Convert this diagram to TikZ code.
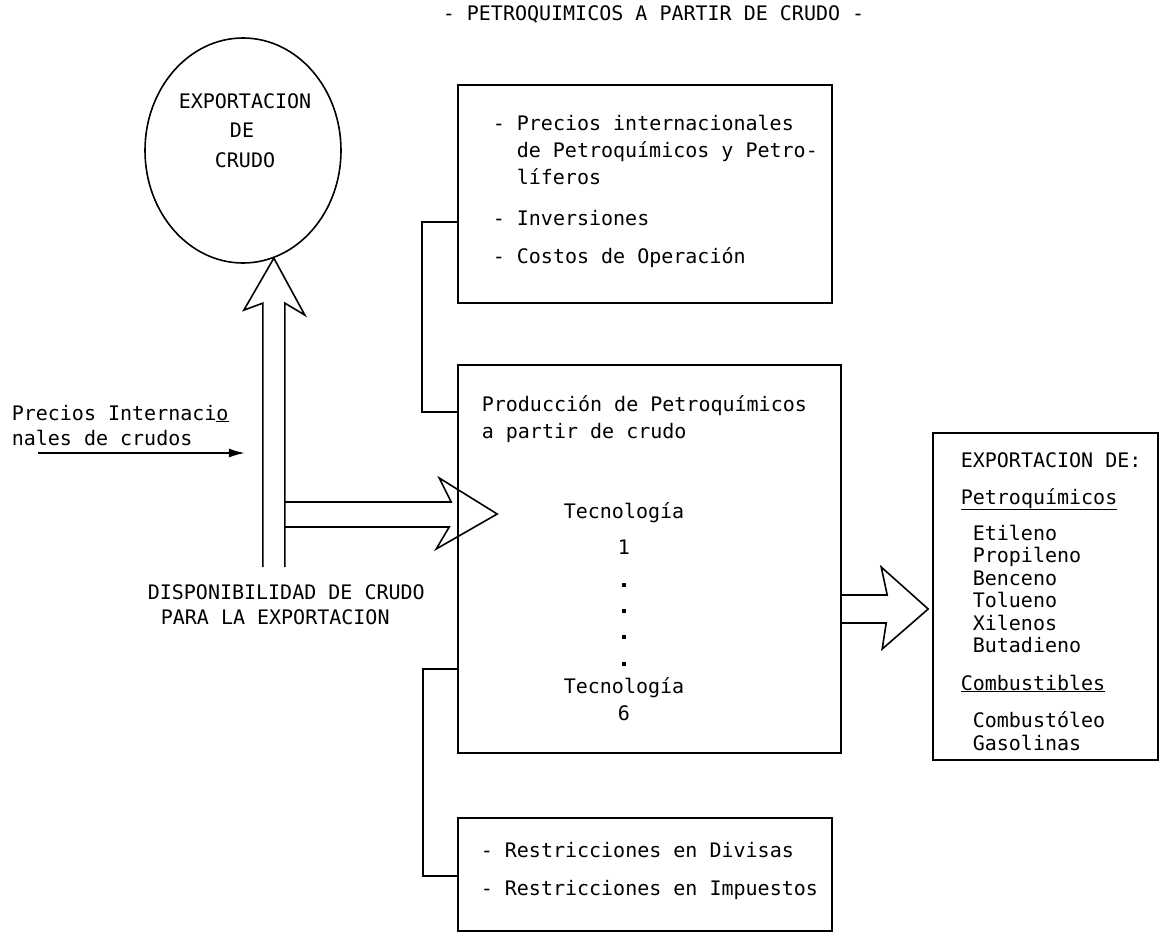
\documentclass[tikz,border=0pt]{standalone}
\usepackage{fontspec}
\setmainfont{DejaVu Sans Mono}
\usetikzlibrary{shapes.geometric,calc,arrows.meta}
\begin{document}
\begin{tikzpicture}[x=1pt,y=-1pt,line width=1.6pt,
  box/.style={draw,rectangle,inner sep=0pt,line width=1.6pt},
  txt/.style={anchor=base west,inner sep=0pt,font=\fontsize{20}{24}\selectfont},
  ctxt/.style={anchor=base,inner sep=0pt,font=\fontsize{20}{24}\selectfont},
  blk/.style={draw,line width=1.6pt,line join=miter},
  dotmark/.style={rectangle,fill,inner sep=0pt,minimum size=4pt}]
\useasboundingbox (0,0) rectangle (1160,934);

% title
\node[txt] (title) at (442,21) {- PETROQUIMICOS A PARTIR DE CRUDO -};

% ellipse
\node[draw,ellipse,line width=1.6pt,minimum width=196pt,minimum height=225pt,inner sep=0pt] (circ) at (243,150.5) {};
\node[ctxt] (c1) at (245,108) {EXPORTACION};
\node[ctxt] (c2) at (242,137) {DE};
\node[ctxt] (c3) at (245,167) {CRUDO};

% boxes
\node[box,minimum width=374pt,minimum height=218pt] (top) at (645,194) {};
\node[box,minimum width=383pt,minimum height=388pt] (mid) at (649.5,559) {};
\node[box,minimum width=374pt,minimum height=113pt] (bot) at (645,874.5) {};
\node[box,minimum width=225pt,minimum height=327pt] (rt) at (1045.5,596.5) {};

% top box text
\node[txt] (t1) at (492,130) {- Precios internacionales};
\node[txt] (t2) at (516,157) {de Petroquímicos y Petro-};
\node[txt] (t3) at (516,184) {líferos};
\node[txt] (t4) at (492,225) {- Inversiones};
\node[txt] (t5) at (492,263) {- Costos de Operación};

% middle box text
\node[txt] (m1) at (481,411) {Producción de Petroquímicos};
\node[txt] (m2) at (481,438) {a partir de crudo};
\node[ctxt] (m3) at (624,518) {Tecnología};
\node[ctxt] (m4) at (624,554) {1};
\node[dotmark] (d1) at (624,585) {};
\node[dotmark] (d2) at (624,611) {};
\node[dotmark] (d3) at (624,637) {};
\node[dotmark] (d4) at (624,664) {};
\node[ctxt] (m5) at (624,693) {Tecnología};
\node[ctxt] (m6) at (624,720) {6};

% bottom box text
\node[txt] (b1) at (480,857) {- Restricciones en Divisas};
\node[txt] (b2) at (480,895) {- Restricciones en Impuestos};

% right box text
\node[txt] (r0) at (960,467) {EXPORTACION DE:};
\node[txt] (r1) at (960,504) {\underline{Petroquímicos}};
\node[txt] (r2) at (972,540) {Etileno};
\node[txt] (r3) at (972,562) {Propileno};
\node[txt] (r4) at (972,585) {Benceno};
\node[txt] (r5) at (972,607) {Tolueno};
\node[txt] (r6) at (972,630) {Xilenos};
\node[txt] (r7) at (972,652) {Butadieno};
\node[txt] (r8) at (960,690) {\underline{Combustibles}};
\node[txt] (r9) at (972,727) {Combustóleo};
\node[txt] (r10) at (972,750) {Gasolinas};

% left texts
\node[txt] (p1) at (11,420) {Precios Internaci\underline{o}};
\node[txt] (p2) at (11,445) {nales de crudos};
\node[txt] (s1) at (147,599) {DISPONIBILIDAD DE CRUDO};
\node[txt] (s2) at (160,624) {PARA LA EXPORTACION};

% up block arrow
\coordinate (uptip) at (circ.-74);
\coordinate (upfoot) at (uptip |- 0,567);
\coordinate (upL) at ($(upfoot)+(-11,0)$);
\coordinate (upR) at ($(upfoot)+(11,0)$);
\draw[blk] (upL) -- ($(uptip)+(-11,45)$) -- ($(uptip)+(-30,52)$) -- (uptip)
  -- ($(uptip)+(31,57)$) -- ($(uptip)+(11,45)$) -- (upR);

% right block arrow into production box
\coordinate (rinTip) at ($(mid.west |- 0,514)+(40,0)$);
\draw[blk] (upR |- 0,502) -- ($(rinTip)+(-46,-12)$) -- ($(rinTip)+(-58,-36)$) -- (rinTip)
  -- ($(rinTip)+(-61,35)$) -- ($(rinTip)+(-48,13)$) -- (upR |- 0,527);

% out block arrow
\coordinate (outTip) at ($(rt.west |- 0,609)+(-4,0)$);
\draw[blk] (mid.east |- 0,595) -- ($(outTip)+(-41,-14)$) -- ($(outTip)+(-47,-42)$) -- (outTip)
  -- ($(outTip)+(-46,40)$) -- ($(outTip)+(-42,14)$) -- (mid.east |- 0,623);

% precios arrow
\coordinate (pA) at (38,453);
\draw[-{Latex[length=16pt,width=9pt]}] (pA) -- ($(upL |- pA)+(-18,0)$);

% brackets
\draw (top.west |- 0,222) -- ++(-35,0) |- (mid.west |- 0,412);
\draw (mid.west |- 0,669) -- ++(-34,0) |- (bot.west |- 0,876);
\end{tikzpicture}
\end{document}
